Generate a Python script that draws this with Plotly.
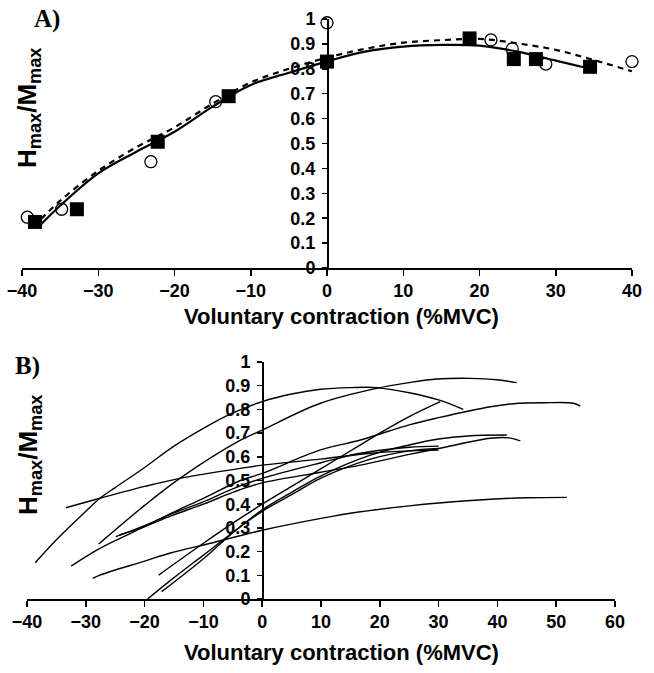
import plotly.graph_objects as go

# ---------------- Panel A data ----------------
sq_x = [-38.3, -32.8, -22.2, -12.9, 0.0, 18.7, 24.5, 27.4, 34.5]
sq_y = [0.185, 0.236, 0.507, 0.690, 0.829, 0.922, 0.839, 0.839, 0.808]
circ_x = [-39.3, -34.8, -23.1, -14.6, 0.0, 21.5, 24.3, 28.7, 40.0]
circ_y = [0.204, 0.236, 0.427, 0.668, 0.985, 0.916, 0.880, 0.819, 0.829]
fitA_solid_x = [-38, -35, -30, -25, -20, -15, -10, -5, 0, 5, 10, 15, 20, 25, 30, 34.5]
fitA_solid_y = [0.16, 0.25, 0.38, 0.467, 0.547, 0.648, 0.735, 0.784, 0.83, 0.869, 0.889, 0.896, 0.893, 0.869, 0.833, 0.80]
fitA_dash_x = [-38.5, -35, -30, -25, -20, -15, -10, -5, 0, 5, 10, 15, 20, 25, 30, 35, 40]
fitA_dash_y = [0.165, 0.27, 0.39, 0.485, 0.565, 0.66, 0.745, 0.80, 0.845, 0.88, 0.905, 0.915, 0.92, 0.902, 0.876, 0.835, 0.79]

# ---------------- Panel B data (individual fits) ----------------
b1_x = [-38.6, -35, -30, -27.6, -25, -20, -15, -10, -5, 0, 5, 9.9, 15, 19.5, 25, 30, 34.2]
b1_y = [0.153, 0.25, 0.37, 0.425, 0.47, 0.555, 0.645, 0.72, 0.785, 0.833, 0.865, 0.885, 0.892, 0.892, 0.87, 0.84, 0.80]
b2_x = [-33.4, -27.6, -20, -14, -3.7, 0, 9.9, 18.4, 25, 30]
b2_y = [0.385, 0.425, 0.475, 0.509, 0.551, 0.565, 0.59, 0.615, 0.625, 0.628]
b3_x = [-32.5, -27.6, -20, -15.6, -10, -3.7, 0, 9.9, 16.7, 25, 30, 38.8, 42.7, 48, 52.9, 54.1]
b3_y = [0.139, 0.214, 0.305, 0.36, 0.425, 0.50, 0.53, 0.629, 0.671, 0.735, 0.765, 0.811, 0.824, 0.828, 0.826, 0.814]
b4_x = [-27.8, -20, -14, -3.7, 0, 9.9, 19.5, 25, 29.7, 35.4, 40, 43.3]
b4_y = [0.232, 0.395, 0.509, 0.67, 0.713, 0.826, 0.889, 0.913, 0.928, 0.931, 0.925, 0.913]
b5_x = [-28.8, -27.6, -20, -15.6, -8.8, 0, 10, 16.7, 25, 30, 38.8, 45, 51.8]
b5_y = [0.087, 0.101, 0.16, 0.194, 0.235, 0.29, 0.34, 0.368, 0.393, 0.405, 0.421, 0.427, 0.429]
b6_x = [-24.9, -20, -15.6, -10, -5, 0, 10, 16.7, 25, 30]
b6_y = [0.263, 0.31, 0.357, 0.41, 0.465, 0.509, 0.575, 0.615, 0.64, 0.645]
b7_x = [-24.3, -20, -15.6, -10, -5, 0, 10, 16.7, 25, 30, 38.8, 42, 43.9]
b7_y = [0.27, 0.305, 0.35, 0.40, 0.45, 0.49, 0.535, 0.565, 0.61, 0.635, 0.678, 0.68, 0.667]
b8_x = [-17.6, -10, -5, 0, 5, 10, 16.7, 20, 25, 30.3]
b8_y = [0.101, 0.235, 0.32, 0.40, 0.475, 0.55, 0.65, 0.70, 0.77, 0.833]
b9_x = [-17.1, -10, -5, 0, 5, 10, 18.4, 25, 30, 35, 41.6]
b9_y = [0.031, 0.17, 0.28, 0.376, 0.45, 0.52, 0.607, 0.65, 0.675, 0.688, 0.692]
b10_x = [-19.5, -15, -10, -5, 0, 5, 10, 18.4, 25, 30]
b10_y = [0.0, 0.09, 0.185, 0.28, 0.37, 0.44, 0.51, 0.59, 0.625, 0.635]

A_ticks_x = [-40, -30, -20, -10, 0, 10, 20, 30, 40]
B_ticks_x = [-40, -30, -20, -10, 0, 10, 20, 30, 40, 50, 60]
ticks_y = [0, 0.1, 0.2, 0.3, 0.4, 0.5, 0.6, 0.7, 0.8, 0.9, 1]
x_title = "Voluntary contraction (%MVC)"
y_title = "H<sub>max</sub>/M<sub>max</sub>"

W, H = 654, 673
SANS = "Liberation Sans, Arial, sans-serif"
SERIF = "Liberation Serif, Times New Roman, serif"

fig = go.Figure()

# Panel A traces
fig.add_trace(go.Scatter(x=fitA_dash_x, y=fitA_dash_y, mode="lines", line_shape="spline",
                         line=dict(color="black", width=2.2, dash="6px,5px"),
                         xaxis="x", yaxis="y", showlegend=False, hoverinfo="skip"))
fig.add_trace(go.Scatter(x=fitA_solid_x, y=fitA_solid_y, mode="lines", line_shape="spline",
                         line=dict(color="black", width=2.2),
                         xaxis="x", yaxis="y", showlegend=False, hoverinfo="skip"))
fig.add_trace(go.Scatter(x=sq_x, y=sq_y, mode="markers",
                         marker=dict(symbol="square", size=14, color="black"),
                         xaxis="x", yaxis="y", showlegend=False, cliponaxis=False))
fig.add_trace(go.Scatter(x=circ_x, y=circ_y, mode="markers",
                         marker=dict(symbol="circle-open", size=12, color="black", line=dict(width=1.3)),
                         xaxis="x", yaxis="y", showlegend=False, cliponaxis=False))

# Panel B traces
for bx, by in [(b1_x, b1_y), (b2_x, b2_y), (b3_x, b3_y), (b4_x, b4_y), (b5_x, b5_y),
               (b6_x, b6_y), (b7_x, b7_y), (b8_x, b8_y), (b9_x, b9_y), (b10_x, b10_y)]:
    fig.add_trace(go.Scatter(x=bx, y=by, mode="lines", line_shape="spline",
                             line=dict(color="black", width=1.4),
                             xaxis="x2", yaxis="y2", showlegend=False, hoverinfo="skip",
                             cliponaxis=False))

tickfont = dict(family=SANS, size=18, color="black", weight="bold")

def xax(dom, ticks, rng, anchor):
    return dict(domain=dom, range=rng, tickvals=ticks, ticks="outside", ticklen=6, tickwidth=1.5,
                tickcolor="black", showline=True, linecolor="black", linewidth=1.5,
                showgrid=False, zeroline=False, tickfont=tickfont, anchor=anchor, fixedrange=True,
                automargin=False)

def yax(dom, pos):
    return dict(domain=dom, range=[0, 1], tickvals=ticks_y, ticks="outside", ticklen=5, tickwidth=1.5,
                tickcolor="black", showline=True, linecolor="black", linewidth=1.5,
                showgrid=False, zeroline=False, tickfont=tickfont, anchor="free", position=pos,
                fixedrange=True, automargin=False, ticklabelstandoff=3)

fig.update_layout(
    width=W, height=H, margin=dict(l=0, r=0, t=0, b=0, autoexpand=False),
    paper_bgcolor="white", plot_bgcolor="rgba(0,0,0,0)",
    xaxis=xax([22 / W, 632 / W], A_ticks_x, [-40, 40], "y"),
    yaxis=yax([1 - 268 / H, 1 - 19 / H], 327 / W),
    xaxis2=xax([27 / W, 615 / W], B_ticks_x, [-40, 60], "y2"),
    yaxis2=yax([1 - 599 / H, 1 - 362 / H], 262 / W),
    hovermode=False,
)

ann = []
for yc in [316, 652]:
    ann.append(dict(text=x_title, x=341 / W, y=1 - yc / H, xref="paper", yref="paper",
                    showarrow=False, xanchor="center", yanchor="middle",
                    font=dict(family=SANS, size=22, color="black", weight="bold")))
for yc in [108, 455]:
    ann.append(dict(text=y_title, x=29 / W, y=1 - yc / H, xref="paper", yref="paper",
                    showarrow=False, xanchor="center", yanchor="middle", textangle=-90,
                    font=dict(family=SANS, size=26, color="black", weight="bold")))
for lab, xc, yc in [("A)", 47, 19), ("B)", 27, 366)]:
    ann.append(dict(text=lab, x=xc / W, y=1 - yc / H, xref="paper", yref="paper",
                    showarrow=False, xanchor="center", yanchor="middle",
                    font=dict(family=SERIF, size=25, color="black", weight="bold")))
fig.update_layout(annotations=ann)

fig.write_html("out.html", config={"displayModeBar": False, "staticPlot": True},
               post_script="document.body.style.margin='0';document.body.style.overflow='hidden';")
